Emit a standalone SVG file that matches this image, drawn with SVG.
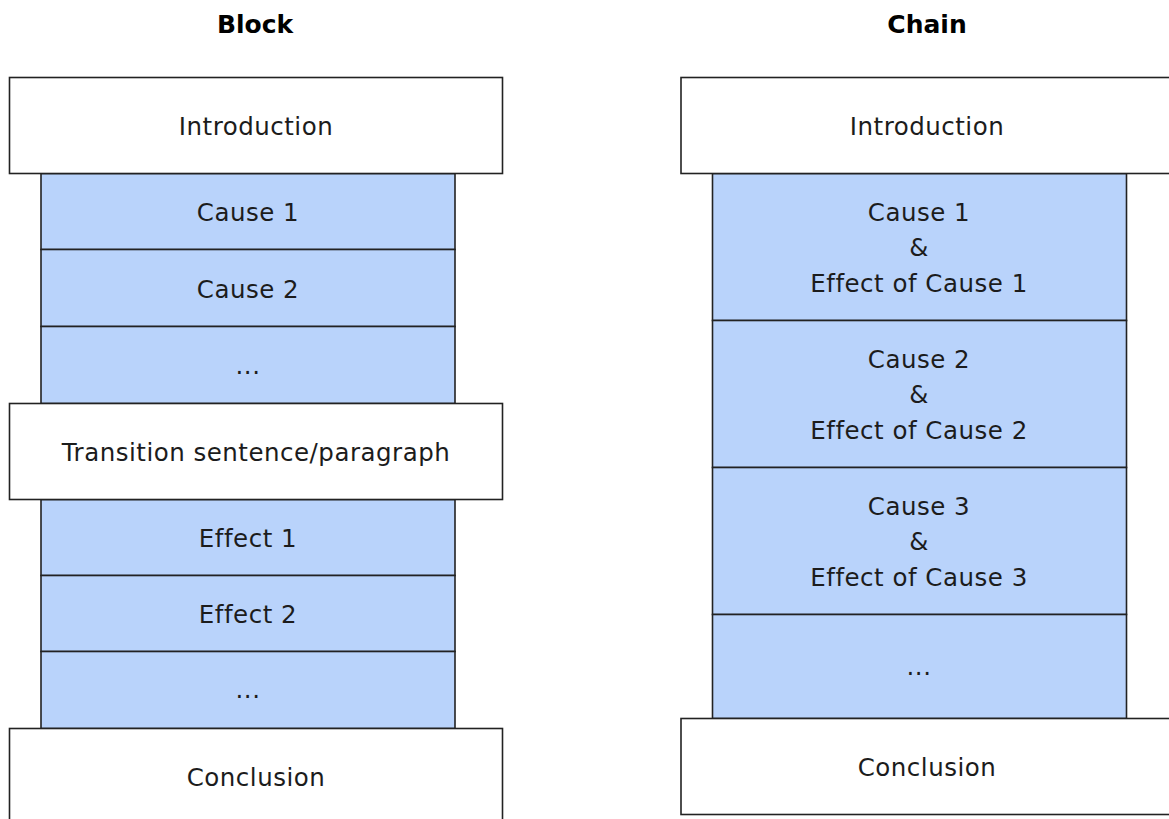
<svg xmlns="http://www.w3.org/2000/svg" width="1169" height="819" viewBox="0 0 1169 819">
<style>
.w{fill:#ffffff;stroke:#222;stroke-width:1.6}
.b{fill:#b9d3fb;stroke:#222;stroke-width:1.6}
text{font-family:"DejaVu Sans","Verdana",sans-serif;font-size:24.5px;letter-spacing:0.5px;fill:#1c1c1c;text-anchor:middle}
.t{font-weight:bold;font-size:25px;letter-spacing:0;fill:#000}
</style>
<rect width="1169" height="819" fill="#ffffff"/>
<g id="title-block"><text class="t" x="255" y="33">Block</text></g>
<g id="title-chain"><text class="t" x="927" y="33">Chain</text></g>

<!-- Block column -->
<g id="b-cause1"><rect class="b" x="41" y="173.5" width="414" height="76"/><text x="248" y="221">Cause 1</text></g>
<g id="b-cause2"><rect class="b" x="41" y="249.5" width="414" height="77"/><text x="248" y="298">Cause 2</text></g>
<g id="b-dots1"><rect class="b" x="41" y="326.5" width="414" height="77"/><text x="248" y="374">...</text></g>
<g id="b-effect1"><rect class="b" x="41" y="499.5" width="414" height="76"/><text x="248" y="547">Effect 1</text></g>
<g id="b-effect2"><rect class="b" x="41" y="575.5" width="414" height="76"/><text x="248" y="623">Effect 2</text></g>
<g id="b-dots2"><rect class="b" x="41" y="651.5" width="414" height="77"/><text x="248" y="698">...</text></g>
<g id="b-intro"><rect class="w" x="9.5" y="77.5" width="493" height="96"/><text x="256" y="135">Introduction</text></g>
<g id="b-transition"><rect class="w" x="9.5" y="403.5" width="493" height="96"/><text x="256" y="461">Transition sentence/paragraph</text></g>
<g id="b-conclusion"><rect class="w" x="9.5" y="728.5" width="493" height="96"/><text x="256" y="786">Conclusion</text></g>

<!-- Chain column -->
<g id="c-cause1"><rect class="b" x="712.5" y="173.5" width="414" height="147"/>
<text x="919" y="221">Cause 1</text><text x="919" y="256">&amp;</text><text x="919" y="292">Effect of Cause 1</text></g>
<g id="c-cause2"><rect class="b" x="712.5" y="320.5" width="414" height="147"/>
<text x="919" y="368">Cause 2</text><text x="919" y="403">&amp;</text><text x="919" y="439">Effect of Cause 2</text></g>
<g id="c-cause3"><rect class="b" x="712.5" y="467.5" width="414" height="147"/>
<text x="919" y="515">Cause 3</text><text x="919" y="550">&amp;</text><text x="919" y="586">Effect of Cause 3</text></g>
<g id="c-dots"><rect class="b" x="712.5" y="614.5" width="414" height="104"/><text x="919" y="675">...</text></g>
<g id="c-intro"><rect class="w" x="681" y="77.5" width="493" height="96"/><text x="927" y="135">Introduction</text></g>
<g id="c-conclusion"><rect class="w" x="681" y="718.5" width="493" height="96"/><text x="927" y="776">Conclusion</text></g>

<g id="connectors"></g>
</svg>
